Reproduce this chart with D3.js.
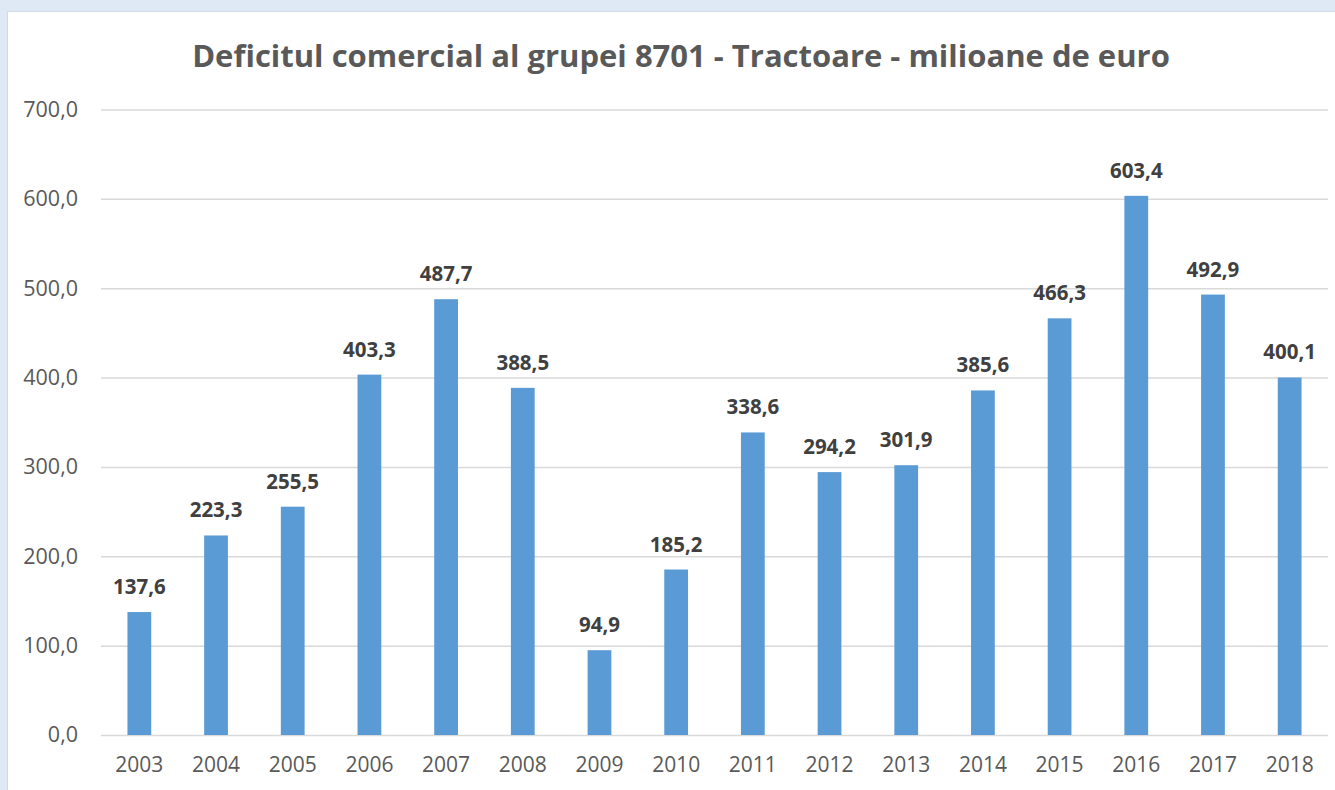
<!DOCTYPE html>
<html>
<head>
<meta charset="utf-8">
<script src="https://cdn.jsdelivr.net/npm/d3@7"></script>
<style>
  html, body { margin: 0; padding: 0; background: #dee9f5; }
  svg { display: block; }
</style>
</head>
<body>
<svg width="1335" height="790"></svg>
<script>
// chart data
var years = ['2003', '2004', '2005', '2006', '2007', '2008', '2009', '2010',
             '2011', '2012', '2013', '2014', '2015', '2016', '2017', '2018'];
var deficit = [137.6, 223.3, 255.5, 403.3, 487.7, 388.5, 94.9, 185.2,
               338.6, 294.2, 301.9, 385.6, 466.3, 603.4, 492.9, 400.1];
var yTicks = [0, 100, 200, 300, 400, 500, 600, 700];
var title = 'Deficitul comercial al grupei 8701 - Tractoare - milioane de euro';

var svg = d3.select('svg');
var fontFamily = '"Open Sans", "Liberation Sans", sans-serif';
var barColor = '#5b9bd5';
var plotLeft = 101, plotRight = 1328, plotTop = 109.5, plotBottom = 735;

var rows = years.map(function(y, i) { return {year: y, value: deficit[i]}; });

var fmt = function(v) { return d3.format('.1f')(v).replace('.', ','); };

// white chart panel
svg.append('rect')
    .attr('x', 7.5).attr('y', 11.5)
    .attr('width', 1340).attr('height', 800)
    .attr('fill', '#ffffff')
    .attr('stroke', '#d3dae3');

var x = d3.scaleBand()
    .domain(years)
    .range([plotLeft, plotRight])
    .paddingInner(0.69)
    .paddingOuter(0.345);

var y = d3.scaleLinear()
    .domain([0, 700])
    .range([plotBottom, plotTop]);

// gridlines + y labels
var yAxis = d3.axisLeft(y)
    .tickValues(yTicks)
    .tickSize(-(plotRight - plotLeft))
    .tickPadding(23)
    .tickFormat(fmt);

var gy = svg.append('g')
    .attr('transform', 'translate(' + plotLeft + ',0)')
    .call(yAxis);
gy.select('.domain').remove();
gy.selectAll('.tick line').attr('stroke', '#d9d9d9').attr('stroke-width', 1.5);
gy.selectAll('.tick text')
    .attr('fill', '#595959')
    .style('font-family', fontFamily)
    .style('font-size', '21.5px');

// x labels
var xAxis = d3.axisBottom(x).tickSize(0).tickPadding(22);
var gx = svg.append('g')
    .attr('transform', 'translate(0,' + plotBottom + ')')
    .call(xAxis);
gx.select('.domain').remove();
gx.selectAll('.tick text')
    .attr('fill', '#595959')
    .style('font-family', fontFamily)
    .style('font-size', '21px');

// bars
svg.append('g').selectAll('rect')
    .data(rows)
    .join('rect')
    .attr('x', function(d) { return x(d.year); })
    .attr('y', function(d) { return y(d.value); })
    .attr('width', x.bandwidth())
    .attr('height', function(d) { return y(0) - y(d.value); })
    .attr('fill', barColor);

// value labels
svg.append('g').selectAll('text')
    .data(rows)
    .join('text')
    .attr('x', function(d) { return x(d.year) + x.bandwidth() / 2; })
    .attr('y', function(d) { return y(d.value) - 18; })
    .attr('text-anchor', 'middle')
    .attr('fill', '#404040')
    .style('font-family', fontFamily)
    .style('font-weight', 'bold')
    .style('font-size', '20.5px')
    .text(function(d) { return fmt(d.value); });

// title, sized to the reference width
var titleText = svg.append('text')
    .attr('x', 681)
    .attr('y', 67)
    .attr('text-anchor', 'middle')
    .attr('fill', '#595959')
    .style('font-family', fontFamily)
    .style('font-weight', 'bold')
    .style('font-size', '30px')
    .text(title);
var w = titleText.node().getComputedTextLength();
titleText.style('font-size', (30 * 978 / w) + 'px');
</script>
</body>
</html>
